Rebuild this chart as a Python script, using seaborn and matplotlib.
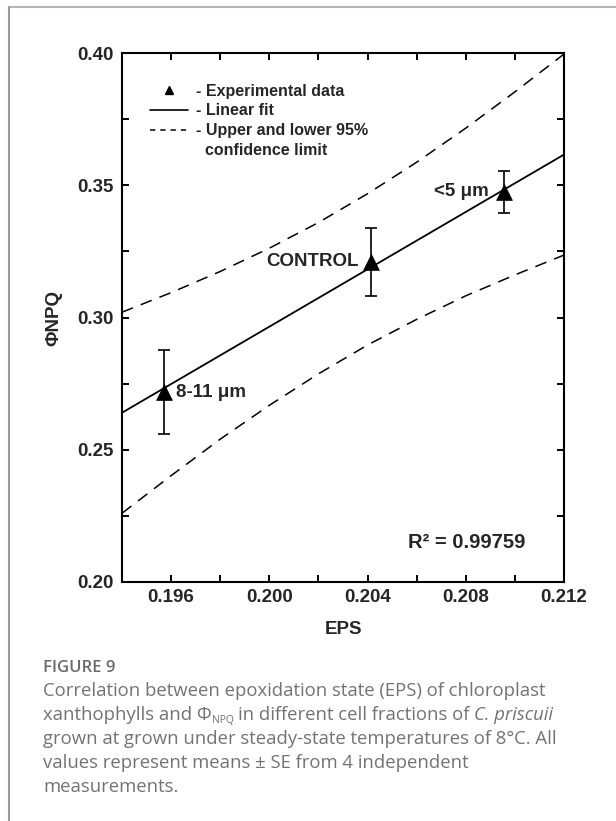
import matplotlib
matplotlib.use('Agg')
import numpy as np
import pandas as pd
import matplotlib.pyplot as plt
import seaborn as sns
from matplotlib.lines import Line2D

# data
eps = [0.1957, 0.20415, 0.20955]
npq = [0.2718, 0.3210, 0.3475]
npq_se = [0.0160, 0.0130, 0.0080]
point_names = ['8-11 \u03bcm', 'CONTROL', '<5 \u03bcm']

fit_x = [0.194, 0.212]
fit_y = [0.2640, 0.3616]

band_x = [0.194, 0.196, 0.198, 0.200, 0.202, 0.204, 0.206, 0.208, 0.210, 0.212]
band_upper = [0.3020, 0.3094, 0.3174, 0.3262, 0.3359, 0.3468, 0.3587, 0.3716, 0.3853, 0.3996]
band_lower = [0.2260, 0.2402, 0.2540, 0.2668, 0.2787, 0.2896, 0.2993, 0.3082, 0.3161, 0.3236]

x_major = [0.196, 0.200, 0.204, 0.208, 0.212]
x_minor = [0.194, 0.198, 0.202, 0.206, 0.210]
y_major = [0.20, 0.25, 0.30, 0.35, 0.40]
y_minor = [0.225, 0.275, 0.325, 0.375]

r2_text = 'R\u00b2 = 0.99759'

sns.set_theme(style='ticks')
plt.rcParams['font.family'] = ['Liberation Sans', 'DejaVu Sans']
plt.rcParams['lines.scale_dashes'] = False

W, H = 616, 821
fig = plt.figure(figsize=(W / 100, H / 100), dpi=100)
ax = fig.add_axes([122 / W, 1 - 582 / H, 442 / W, 529 / H])

fit_df = pd.DataFrame({'x': fit_x, 'y': fit_y})
band_df = pd.DataFrame({'x': band_x, 'up': band_upper, 'lo': band_lower})
pts = pd.DataFrame({'eps': eps, 'npq': npq, 'se': npq_se, 'name': point_names})

dash = (0, (8.5, 6))
sns.lineplot(data=band_df, x='x', y='up', ax=ax, color='black', lw=1.1,
             linestyle=dash, sort=False)
sns.lineplot(data=band_df, x='x', y='lo', ax=ax, color='black', lw=1.1,
             linestyle=dash, sort=False)
sns.lineplot(data=fit_df, x='x', y='y', ax=ax, color='black', lw=1.3, sort=False)
ax.errorbar(pts['eps'], pts['npq'], yerr=pts['se'], fmt='none', ecolor='black',
            elinewidth=1.2, capsize=4.5, capthick=1.2, zorder=3)
sns.scatterplot(data=pts, x='eps', y='npq', ax=ax, marker='^', s=130,
                color='black', edgecolor='black', linewidth=0.5, zorder=4)

lab = dict(fontsize=13.5, fontweight='bold', va='center')
ax.annotate(pts['name'][0], (pts['eps'][0], pts['npq'][0]), xytext=(9, 0),
            textcoords='offset points', ha='left', **lab)
ax.annotate(pts['name'][1], (pts['eps'][1], pts['npq'][1]), xytext=(-9, 0),
            textcoords='offset points', ha='right', **lab)
ax.annotate(pts['name'][2], (pts['eps'][2], pts['npq'][2]), xytext=(-11, 0),
            textcoords='offset points', ha='right', **lab)
ax.text(0.912, 0.074, r2_text, transform=ax.transAxes, ha='right', va='center',
        fontsize=14.5, fontweight='bold')

ax.set_xlim(0.194, 0.212)
ax.set_ylim(0.20, 0.40)
ax.set_xticks(x_major)
ax.set_xticks(x_minor, minor=True)
ax.set_yticks(y_major)
ax.set_yticks(y_minor, minor=True)
ax.set_xticklabels([f'{v:.3f}' for v in x_major])
ax.set_yticklabels([f'{v:.2f}' for v in y_major])
for which in ('major', 'minor'):
    ax.tick_params(axis='both', which=which, direction='in', length=5, width=1.4,
                   top=True, right=True, color='black')
ax.tick_params(axis='x', which='major', pad=5, labelsize=13.5)
ax.tick_params(axis='y', which='major', pad=6, labelsize=13.5)
for lbl in ax.get_xticklabels() + ax.get_yticklabels():
    lbl.set_fontweight('bold')
for s in ax.spines.values():
    s.set_visible(True)
    s.set_linewidth(1.5)
    s.set_color('black')
ax.set_xlabel('EPS', fontsize=13.5, fontweight='bold', labelpad=11)
ax.set_ylabel('\u03a6NPQ', fontsize=13.5, fontweight='bold', labelpad=11)

# legend
handles = [
    Line2D([], [], marker='^', color='black', ls='none', markersize=6),
    Line2D([], [], color='black', lw=1.2),
    Line2D([], [], color='black', lw=1.1, linestyle=(0, (3.8, 3.6))),
    Line2D([], [], color='none'),
]
labels = ['- Experimental data', '- Linear fit', '- Upper and lower 95%',
          '  confidence limit']
leg = ax.legend(handles, labels, loc='upper left', bbox_to_anchor=(0.063, 0.942),
                frameon=False, borderpad=0, borderaxespad=0, handlelength=2.4,
                handletextpad=0.5, labelspacing=0.3, prop={'size': 11.5, 'weight': 'bold'})

# page frame
fig.add_artist(Line2D([9 / W, 1], [1 - 7 / H, 1 - 7 / H], transform=fig.transFigure,
                      color='#b4b4b4', lw=1.5))
fig.add_artist(Line2D([9 / W, 9 / W], [0, 1 - 7 / H], transform=fig.transFigure,
                      color='#9a9a9a', lw=1.5))

# caption
renderer = fig.canvas.get_renderer()
cap = dict(family=['Open Sans', 'DejaVu Sans'], color='#737373', fontsize=13.3)


def space_width(kw):
    a = fig.text(0, 0, 'x x', **kw)
    b = fig.text(0, 0, 'xx', **kw)
    w = a.get_window_extent(renderer).width - b.get_window_extent(renderer).width
    a.remove()
    b.remove()
    return w


def draw_runs(x, baseline, runs):
    for text, kw in runs:
        opts = dict(cap)
        dy = kw.pop('dy', 0)
        lead = kw.pop('lead', False)
        opts.update(kw)
        if lead:
            x += space_width(opts)
        t = fig.text(x / W, (H - baseline - dy) / H, text, va='baseline', **opts)
        x = t.get_window_extent(renderer).x1


draw_runs(43, 672, [('FIGURE 9', dict(fontweight='semibold', fontsize=12, color='#6a6a6a'))])
draw_runs(43, 696, [('Correlation between epoxidation state (EPS) of chloroplast', {})])
draw_runs(43, 720, [('xanthophylls and \u03a6', {}),
                    ('NPQ', dict(fontsize=7.5, dy=3)),
                    ('in different cell fractions of', dict(lead=True)),
                    ('C. priscuii', dict(style='italic', lead=True))])
draw_runs(43, 744, [('grown at grown under steady-state temperatures of 8\u00b0C. All', {})])
draw_runs(43, 768, [('values represent means \u00b1 SE from 4 independent', {})])
draw_runs(43, 792, [('measurements.', {})])

fig.savefig('out.png', dpi=100)
